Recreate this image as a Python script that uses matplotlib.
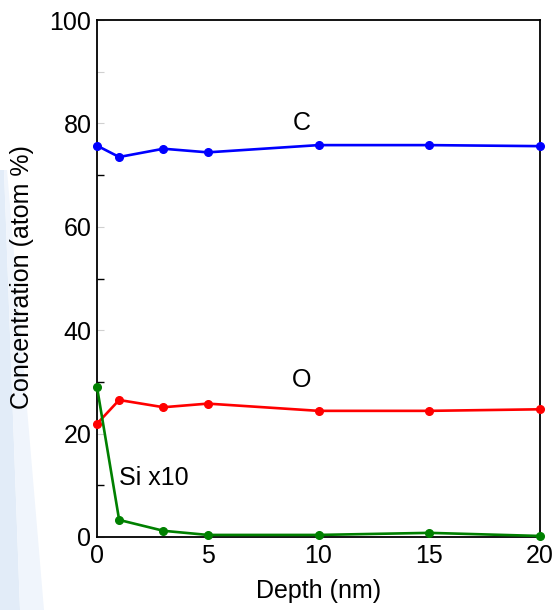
import matplotlib
matplotlib.use("Agg")
import matplotlib.pyplot as plt
from matplotlib.patches import Polygon

depth = [0, 1, 3, 5, 10, 15, 20]
carbon = [75.7, 73.5, 75.1, 74.4, 75.8, 75.8, 75.6]
oxygen = [21.9, 26.5, 25.1, 25.8, 24.4, 24.4, 24.7]
silicon_x10 = [29.0, 3.3, 1.2, 0.4, 0.4, 0.8, 0.2]

x_ticks = [0, 5, 10, 15, 20]
y_ticks = [0, 20, 40, 60, 80, 90, 100]
y_tick_labels = ["0", "20", "40", "60", "80", "", "100"]
y_minor = [10, 30, 50, 70]

plt.rcParams['font.family'] = ['Liberation Sans', 'DejaVu Sans']

fig = plt.figure(figsize=(5.53, 6.10), dpi=100)
fig.patch.set_facecolor('white')

# faint decorative band on the left edge
W, H = 553, 610
band = Polygon([(0 / W, 1 - 170 / H), (4 / W, 1 - 170 / H), (20 / W, 0), (0, 0)],
               closed=True, transform=fig.transFigure, facecolor='#e2ecf8',
               edgecolor='none', zorder=-2)
fig.patches.append(band)
band2 = Polygon([(4 / W, 1 - 170 / H), (7 / W, 1 - 170 / H), (44 / W, 0), (20 / W, 0)],
                closed=True, transform=fig.transFigure, facecolor='#f0f5fc',
                edgecolor='none', zorder=-2)
fig.patches.append(band2)

ax = fig.add_axes([97 / W, 1 - 537 / H, (540 - 97) / W, (537 - 20) / H])
ax.set_facecolor('none')

kw = dict(linewidth=1.9, marker='o', markersize=5.5, clip_on=False, zorder=3)
ax.plot(depth, carbon, color='#0000ff', **kw)
ax.plot(depth, oxygen, color='#ff0000', **kw)
ax.plot(depth, silicon_x10, color='#008000', **kw)

ax.text(9.25, 80.1, "C", fontsize=18, ha='center', va='center')
ax.text(9.25, 30.4, "O", fontsize=18, ha='center', va='center')
ax.text(1.0, 11.4, "Si x10", fontsize=18, ha='left', va='center')

ax.set_xlim(0, 20)
ax.set_ylim(0, 100)
ax.set_xticks(x_ticks)
ax.set_yticks(y_ticks)
ax.set_yticklabels(y_tick_labels)
ax.set_yticks(y_minor, minor=True)

ax.tick_params(axis='x', length=0, labelsize=18, pad=5)
ax.tick_params(axis='y', which='major', direction='in', length=5, width=0.8,
               color='#d0d0d0', labelsize=18, pad=4)
ax.tick_params(axis='y', which='minor', direction='in', length=5, width=1.0,
               color='black')

for s in ax.spines.values():
    s.set_linewidth(1.3)
    s.set_color('black')

ax.set_xlabel("Depth (nm)", fontsize=18, labelpad=8)
fig.text(22 / W, 1 - 277 / H, "Concentration (atom %)", fontsize=18,
         rotation=90, ha='center', va='center', zorder=5)

fig.savefig("out.png", dpi=100)
